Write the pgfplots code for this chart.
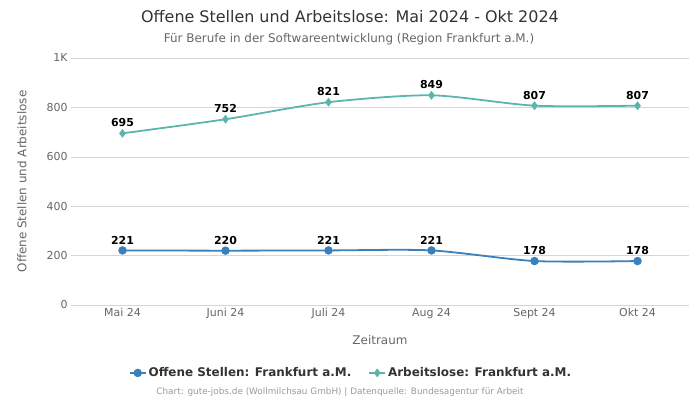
\documentclass[border=0pt]{standalone}
\usepackage{fontspec}
\setmainfont{DejaVu Sans}
\usepackage{pgfplots}
\pgfplotsset{compat=1.18}
\definecolor{blueL}{HTML}{3A80BA}
\definecolor{tealL}{HTML}{5CB5AC}
\definecolor{txt}{HTML}{333333}
\definecolor{sub}{HTML}{666666}
\definecolor{foot}{HTML}{999999}
\definecolor{gridc}{HTML}{D6D6D6}
\definecolor{axc}{HTML}{CCD6EB}
\begin{document}
\begin{tikzpicture}[x=1bp,y=1bp]
\path[use as bounding box] (0,0) rectangle (700,400);
\node[font=\fontsize{16}{18}\selectfont, text=txt] at (350,383) {Offene Stellen und Arbeitslose: Mai 2024 - Okt 2024};
\node[font=\fontsize{12}{14}\selectfont, text=sub] at (349,361) {Für Berufe in der Softwareentwicklung (Region Frankfurt a.M.)};
\node[font=\fontsize{8.9}{10}\selectfont, text=foot] at (340,8) {Chart: gute-jobs.de (Wollmilchsau GmbH) | Datenquelle: Bundesagentur für Arbeit};
\begin{axis}[
  at={(71bp,95bp)}, anchor=south west,
  scale only axis, width=618bp, height=247bp,
  xmin=-0.5, xmax=5.5, ymin=0, ymax=1000,
  axis x line*=bottom, axis y line*=left,
  x axis line style={draw=axc, -},
  y axis line style={draw=none},
  tick style={draw=none},
  ymajorgrids, major grid style={draw=gridc, line width=0.6pt},
  xtick={0,...,5},
  xticklabels={Mai 24,Juni 24,Juli 24,Aug 24,Sept 24,Okt 24},
  ytick={0,200,400,600,800,1000},
  yticklabels={0,200,400,600,800,1K},
  tick label style={font=\fontsize{11}{12}\selectfont, text=sub},
  /pgf/number format/assume math mode=true,
  xlabel={Zeitraum}, ylabel={Offene Stellen und Arbeitslose},
  label style={font=\fontsize{12}{14}\selectfont, text=sub},
  xlabel style={at={(axis description cs:0.5,0)}, anchor=center, yshift=-35bp},
  ylabel style={at={(axis description cs:0,0.5)}, anchor=center, yshift=49bp},
  nodes near coords,
  every node near coord/.append style={font=\bfseries\fontsize{11}{12}\selectfont, text=black, yshift=2bp},
  legend columns=2,
  legend style={draw=none, fill=none, at={(0.453,-0.275)}, anchor=center,
    font=\bfseries\fontsize{12}{14}\selectfont, text=txt,
    /tikz/every even column/.append style={column sep=15bp}},
  legend image code/.code={\draw[#1] (0bp,0bp) -- (16bp,0bp); \draw[#1, only marks] plot coordinates {(8bp,0bp)};},
]
\addplot[color=blueL, line width=1.8pt, smooth, tension=0.45, mark=*, mark size=3.3pt, mark options={fill=blueL, draw=blueL}]
  coordinates {(0,221) (1,220) (2,221) (3,221) (4,178) (5,178)};
\addlegendentry{Offene Stellen: Frankfurt a.M.}
\addplot[color=tealL, line width=1.8pt, smooth, tension=0.45, mark=diamond*, mark size=3pt, mark options={fill=tealL, draw=tealL}]
  coordinates {(0,695) (1,752) (2,821) (3,849) (4,807) (5,807)};
\addlegendentry{Arbeitslose: Frankfurt a.M.}
\end{axis}
\end{tikzpicture}
\end{document}
